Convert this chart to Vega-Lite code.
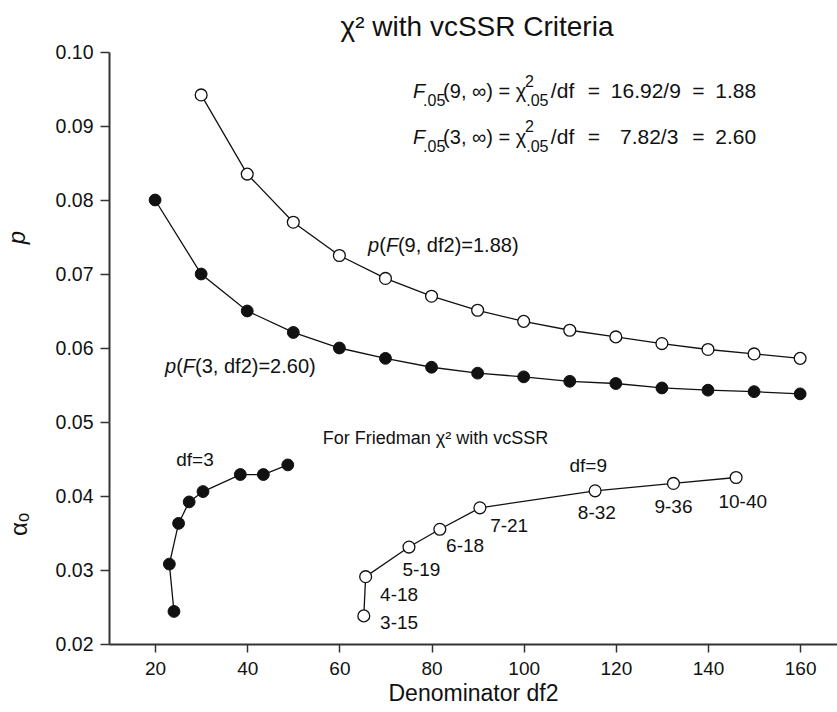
{
  "$schema": "https://vega.github.io/schema/vega-lite/v6.json",
  "padding": {"left": 5, "top": 14, "right": 0, "bottom": 2},
  "title": {"text": "χ² with vcSSR Criteria", "fontSize": 28, "font": "Liberation Sans", "fontWeight": "normal", "anchor": "middle", "frame": "group", "offset": 0, "dx": 4, "color": "#111"},
  "datasets": {
    "p9": [
      {"df2": 30, "v": 0.0942}, {"df2": 40, "v": 0.0835}, {"df2": 50, "v": 0.0770}, {"df2": 60, "v": 0.0725},
      {"df2": 70, "v": 0.0694}, {"df2": 80, "v": 0.0670}, {"df2": 90, "v": 0.0651}, {"df2": 100, "v": 0.0636},
      {"df2": 110, "v": 0.0624}, {"df2": 120, "v": 0.0615}, {"df2": 130, "v": 0.0606}, {"df2": 140, "v": 0.0598},
      {"df2": 150, "v": 0.0592}, {"df2": 160, "v": 0.0586}
    ],
    "p3": [
      {"df2": 20, "v": 0.0800}, {"df2": 30, "v": 0.0700}, {"df2": 40, "v": 0.0650}, {"df2": 50, "v": 0.0621},
      {"df2": 60, "v": 0.0600}, {"df2": 70, "v": 0.0586}, {"df2": 80, "v": 0.0574}, {"df2": 90, "v": 0.0566},
      {"df2": 100, "v": 0.0561}, {"df2": 110, "v": 0.0555}, {"df2": 120, "v": 0.0552}, {"df2": 130, "v": 0.0546},
      {"df2": 140, "v": 0.0543}, {"df2": 150, "v": 0.0541}, {"df2": 160, "v": 0.0538}
    ],
    "a3": [
      {"i": 1, "df2": 24.1, "v": 0.0244}, {"i": 2, "df2": 23.1, "v": 0.0308}, {"i": 3, "df2": 25.1, "v": 0.0363},
      {"i": 4, "df2": 27.4, "v": 0.0392}, {"i": 5, "df2": 30.4, "v": 0.0406}, {"i": 6, "df2": 38.5, "v": 0.0429},
      {"i": 7, "df2": 43.5, "v": 0.0429}, {"i": 8, "df2": 48.8, "v": 0.0442}
    ],
    "a9": [
      {"i": 1, "df2": 65.3, "v": 0.0238}, {"i": 2, "df2": 65.7, "v": 0.0291}, {"i": 3, "df2": 75.1, "v": 0.0331},
      {"i": 4, "df2": 81.8, "v": 0.0355}, {"i": 5, "df2": 90.5, "v": 0.0384}, {"i": 6, "df2": 115.5, "v": 0.0407},
      {"i": 7, "df2": 132.5, "v": 0.0417}, {"i": 8, "df2": 146.1, "v": 0.0425}
    ],
    "topText": [
      {"x": 76.0, "y": 0.09378, "t": "F", "k": "it"},
      {"x": 78.17, "y": 0.09268, "t": ".05", "k": "sub"},
      {"x": 82.51, "y": 0.09378, "t": "(9, ∞) = χ", "k": "n"},
      {"x": 100.3, "y": 0.09531, "t": "2", "k": "sup"},
      {"x": 100.55, "y": 0.09268, "t": ".05", "k": "sub"},
      {"x": 105.9, "y": 0.09378, "t": "/df", "k": "w"},
      {"x": 113.9, "y": 0.09378, "t": "=", "k": "w"},
      {"x": 118.9, "y": 0.09378, "t": "16.92/9", "k": "w"},
      {"x": 136.6, "y": 0.09378, "t": "=", "k": "w"},
      {"x": 141.6, "y": 0.09378, "t": "1.88", "k": "w"},
      {"x": 76.0, "y": 0.08761, "t": "F", "k": "it"},
      {"x": 78.17, "y": 0.08653, "t": ".05", "k": "sub"},
      {"x": 82.51, "y": 0.08761, "t": "(3, ∞) = χ", "k": "n"},
      {"x": 100.3, "y": 0.08916, "t": "2", "k": "sup"},
      {"x": 100.55, "y": 0.08653, "t": ".05", "k": "sub"},
      {"x": 105.9, "y": 0.08761, "t": "/df", "k": "w"},
      {"x": 113.9, "y": 0.08761, "t": "=", "k": "w"},
      {"x": 120.9, "y": 0.08761, "t": "7.82/3", "k": "w"},
      {"x": 136.6, "y": 0.08761, "t": "=", "k": "w"},
      {"x": 141.6, "y": 0.08761, "t": "2.60", "k": "w"},
      {"x": 66.23, "y": 0.07301, "t": "p", "k": "it"},
      {"x": 68.64, "y": 0.07301, "t": "(", "k": "n"},
      {"x": 70.10, "y": 0.07301, "t": "F", "k": "it"},
      {"x": 72.71, "y": 0.07301, "t": "(9, df2)=1.88)", "k": "n"},
      {"x": 22.17, "y": 0.05666, "t": "p", "k": "it"},
      {"x": 24.58, "y": 0.05666, "t": "(", "k": "n"},
      {"x": 26.03, "y": 0.05666, "t": "F", "k": "it"},
      {"x": 28.68, "y": 0.05666, "t": "(3, df2)=2.60)", "k": "n"}
    ],
    "botText": [
      {"x": 56.4, "y": 0.04703, "t": "For Friedman χ² with vcSSR", "k": "small"},
      {"x": 24.6, "y": 0.0441, "t": "df=3", "k": "n"},
      {"x": 109.93, "y": 0.0432, "t": "df=9", "k": "n"},
      {"x": 68.84, "y": 0.02203, "t": "3-15", "k": "n"},
      {"x": 68.84, "y": 0.02577, "t": "4-18", "k": "n"},
      {"x": 73.68, "y": 0.02923, "t": "5-19", "k": "n"},
      {"x": 83.16, "y": 0.03239, "t": "6-18", "k": "n"},
      {"x": 92.72, "y": 0.03518, "t": "7-21", "k": "n"},
      {"x": 111.75, "y": 0.03689, "t": "8-32", "k": "n"},
      {"x": 128.38, "y": 0.0377, "t": "9-36", "k": "n"},
      {"x": 142.27, "y": 0.03834, "t": "10-40", "k": "n"}
    ]
  },
  "vconcat": [
    {
      "width": 728,
      "height": 370,
      "layer": [
        {
          "data": {"name": "p9"},
          "mark": {"type": "line", "color": "#111", "strokeWidth": 1.3},
          "encoding": {
            "x": {"field": "df2", "type": "quantitative", "scale": {"domain": [10, 168], "nice": false, "zero": false}, "axis": null},
            "y": {"field": "v", "type": "quantitative", "scale": {"domain": [0.05, 0.1], "nice": false, "zero": false},
              "axis": {"title": "p", "titleFontStyle": "italic", "titleFontSize": 24, "values": [0.05, 0.06, 0.07, 0.08, 0.09, 0.1], "format": ".2f", "tickSize": 9, "labelPadding": 7, "labelFontSize": 19.5, "titlePadding": 26}}
          }
        },
        {
          "data": {"name": "p9"},
          "mark": {"type": "point", "filled": true, "fill": "white", "stroke": "#111", "strokeWidth": 1.3, "size": 140, "opacity": 1},
          "encoding": {
            "x": {"field": "df2", "type": "quantitative", "axis": null},
            "y": {"field": "v", "type": "quantitative"}
          }
        },
        {
          "data": {"name": "p3"},
          "mark": {"type": "line", "color": "#111", "strokeWidth": 1.3},
          "encoding": {
            "x": {"field": "df2", "type": "quantitative", "axis": null},
            "y": {"field": "v", "type": "quantitative"}
          }
        },
        {
          "data": {"name": "p3"},
          "mark": {"type": "point", "filled": true, "fill": "#111", "stroke": "#111", "strokeWidth": 1, "size": 140, "opacity": 1},
          "encoding": {
            "x": {"field": "df2", "type": "quantitative", "axis": null},
            "y": {"field": "v", "type": "quantitative"}
          }
        },
        {
          "data": {"name": "topText"},
          "transform": [{"filter": "datum.k === 'n'"}],
          "mark": {"type": "text", "align": "left", "baseline": "alphabetic", "fontSize": 20, "font": "Liberation Sans", "color": "#111"},
          "encoding": {
            "x": {"field": "x", "type": "quantitative", "axis": null},
            "y": {"field": "y", "type": "quantitative"},
            "text": {"field": "t"}
          }
        },
        {
          "data": {"name": "topText"},
          "transform": [{"filter": "datum.k === 'w'"}],
          "mark": {"type": "text", "align": "left", "baseline": "alphabetic", "fontSize": 21, "font": "Liberation Sans", "color": "#111"},
          "encoding": {
            "x": {"field": "x", "type": "quantitative", "axis": null},
            "y": {"field": "y", "type": "quantitative"},
            "text": {"field": "t"}
          }
        },
        {
          "data": {"name": "topText"},
          "transform": [{"filter": "datum.k === 'it'"}],
          "mark": {"type": "text", "align": "left", "baseline": "alphabetic", "fontSize": 20, "fontStyle": "italic", "font": "Liberation Sans", "color": "#111"},
          "encoding": {
            "x": {"field": "x", "type": "quantitative", "axis": null},
            "y": {"field": "y", "type": "quantitative"},
            "text": {"field": "t"}
          }
        },
        {
          "data": {"name": "topText"},
          "transform": [{"filter": "datum.k === 'sub' || datum.k === 'sup'"}],
          "mark": {"type": "text", "align": "left", "baseline": "alphabetic", "fontSize": 16, "font": "Liberation Sans", "color": "#111"},
          "encoding": {
            "x": {"field": "x", "type": "quantitative", "axis": null},
            "y": {"field": "y", "type": "quantitative"},
            "text": {"field": "t"}
          }
        },
        {
          "mark": {"type": "rule", "color": "#333", "strokeWidth": 2},
          "encoding": {"y": {"datum": 0.1, "type": "quantitative"}}
        },
        {
          "mark": {"type": "rule", "color": "#333", "strokeWidth": 2},
          "encoding": {"y": {"datum": 0.05, "type": "quantitative"}}
        }
      ]
    },
    {
      "width": 728,
      "height": 222,
      "layer": [
        {
          "data": {"name": "a3"},
          "mark": {"type": "line", "color": "#111", "strokeWidth": 1.3},
          "encoding": {
            "x": {"field": "df2", "type": "quantitative", "scale": {"domain": [10, 168], "nice": false, "zero": false},
              "axis": {"title": "Denominator df2", "values": [20, 40, 60, 80, 100, 120, 140, 160], "tickSize": 8, "labelPadding": 7, "labelFontSize": 19, "titleFontSize": 23, "titlePadding": 4}},
            "y": {"field": "v", "type": "quantitative", "scale": {"domain": [0.02, 0.05], "nice": false, "zero": false},
              "axis": {"title": "αₒ", "titleFontSize": 24, "values": [0.02, 0.03, 0.04], "format": ".2f", "tickSize": 9, "labelPadding": 7, "labelFontSize": 19.5, "titlePadding": 24, "titleY": 102}},
            "order": {"field": "i", "type": "quantitative"}
          }
        },
        {
          "data": {"name": "a3"},
          "mark": {"type": "point", "filled": true, "fill": "#111", "stroke": "#111", "strokeWidth": 1, "size": 140, "opacity": 1},
          "encoding": {
            "x": {"field": "df2", "type": "quantitative"},
            "y": {"field": "v", "type": "quantitative"}
          }
        },
        {
          "data": {"name": "a9"},
          "mark": {"type": "line", "color": "#111", "strokeWidth": 1.3},
          "encoding": {
            "x": {"field": "df2", "type": "quantitative"},
            "y": {"field": "v", "type": "quantitative"},
            "order": {"field": "i", "type": "quantitative"}
          }
        },
        {
          "data": {"name": "a9"},
          "mark": {"type": "point", "filled": true, "fill": "white", "stroke": "#111", "strokeWidth": 1.3, "size": 140, "opacity": 1},
          "encoding": {
            "x": {"field": "df2", "type": "quantitative"},
            "y": {"field": "v", "type": "quantitative"}
          }
        },
        {
          "data": {"name": "botText"},
          "transform": [{"filter": "datum.k === 'n'"}],
          "mark": {"type": "text", "align": "left", "baseline": "alphabetic", "fontSize": 19, "font": "Liberation Sans", "color": "#111"},
          "encoding": {
            "x": {"field": "x", "type": "quantitative"},
            "y": {"field": "y", "type": "quantitative"},
            "text": {"field": "t"}
          }
        },
        {
          "data": {"name": "botText"},
          "transform": [{"filter": "datum.k === 'small'"}],
          "mark": {"type": "text", "align": "left", "baseline": "alphabetic", "fontSize": 18, "font": "Liberation Sans", "color": "#111"},
          "encoding": {
            "x": {"field": "x", "type": "quantitative"},
            "y": {"field": "y", "type": "quantitative"},
            "text": {"field": "t"}
          }
        }
      ]
    }
  ],
  "spacing": 0,
  "bounds": "flush",
  "resolve": {"scale": {"y": "independent"}},
  "config": {
    "view": {"stroke": null},
    "font": "Liberation Sans",
    "axis": {"grid": false, "domainColor": "#333", "domainWidth": 2, "tickColor": "#333", "tickWidth": 1.5, "labelColor": "#111", "titleColor": "#111", "titleFontWeight": "normal", "labelFont": "Liberation Sans", "titleFont": "Liberation Sans"}
  }
}
